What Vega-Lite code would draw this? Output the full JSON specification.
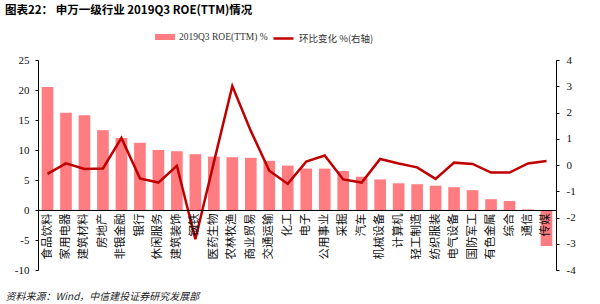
{
  "$schema": "https://vega.github.io/schema/vega-lite/v6.json",
  "width": 518,
  "height": 210,
  "autosize": {"type": "none"},
  "padding": {"left": 38, "top": 60, "right": 44, "bottom": 34},
  "background": "white",
  "config": {
    "view": {"stroke": null},
    "locale": {"number": {"decimal": ".", "thousands": ",", "grouping": [3], "currency": ["$", ""], "minus": "-"}},
    "axis": {"grid": false, "domainColor": "#000000", "tickColor": "#000000", "labelColor": "#111111", "labelFont": "Liberation Serif", "labelFontSize": 11}
  },
  "title": {
    "text": "图表22：  申万一级行业 2019Q3 ROE(TTM)情况",
    "anchor": "start",
    "frame": "group",
    "dx": -33,
    "offset": 11,
    "font": "Noto Sans CJK SC",
    "fontSize": 11.5,
    "fontWeight": "bold",
    "color": "#000000"
  },
  "data": {
    "values": [
      {"name": "食品饮料", "roe": 20.5, "chg": -0.34},
      {"name": "家用电器", "roe": 16.2, "chg": 0.06},
      {"name": "建筑材料", "roe": 15.8, "chg": -0.15},
      {"name": "房地产", "roe": 13.3, "chg": -0.13},
      {"name": "非银金融", "roe": 12.0, "chg": 1.03},
      {"name": "银行", "roe": 11.2, "chg": -0.51},
      {"name": "休闲服务", "roe": 10.0, "chg": -0.67},
      {"name": "建筑装饰", "roe": 9.8, "chg": -0.03},
      {"name": "钢铁", "roe": 9.3, "chg": -2.83},
      {"name": "医药生物", "roe": 8.9, "chg": 0.1},
      {"name": "农林牧渔", "roe": 8.8, "chg": 3.01},
      {"name": "商业贸易", "roe": 8.7, "chg": 1.3},
      {"name": "交通运输", "roe": 8.2, "chg": -0.22},
      {"name": "化工", "roe": 7.4, "chg": -0.72},
      {"name": "电子", "roe": 6.9, "chg": 0.13},
      {"name": "公用事业", "roe": 6.9, "chg": 0.36},
      {"name": "采掘", "roe": 6.5, "chg": -0.55},
      {"name": "汽车", "roe": 5.55, "chg": -0.67},
      {"name": "机械设备", "roe": 5.1, "chg": 0.23},
      {"name": "计算机", "roe": 4.45, "chg": 0.06},
      {"name": "轻工制造", "roe": 4.3, "chg": -0.09},
      {"name": "纺织服装", "roe": 4.05, "chg": -0.53},
      {"name": "电气设备", "roe": 3.8, "chg": 0.09},
      {"name": "国防军工", "roe": 3.3, "chg": 0.04},
      {"name": "有色金属", "roe": 1.8, "chg": -0.29},
      {"name": "综合", "roe": 1.5, "chg": -0.29},
      {"name": "通信", "roe": 0.1, "chg": 0.06},
      {"name": "传媒", "roe": -6.0, "chg": 0.15}
    ]
  },
  "encoding": {
    "x": {
      "field": "name",
      "type": "nominal",
      "sort": null,
      "scale": {"paddingInner": 0.37, "paddingOuter": 0.2},
      "axis": {
        "offset": -60,
        "zindex": 1,
        "labelAngle": -90,
        "labelAlign": "right",
        "labelBaseline": "middle",
        "labelFont": "Noto Sans CJK SC",
        "labelFontSize": 11.5,
        "labelPadding": 3,
        "ticks": false,
        "title": "资料来源：Wind，中信建投证券研究发展部",
        "titleFont": "Noto Sans CJK SC",
        "titleFontSize": 10,
        "titleFontStyle": "italic",
        "titleFontWeight": "normal",
        "titleColor": "#222222",
        "titleAnchor": "start",
        "titleAlign": "left",
        "titleBaseline": "middle",
        "titleX": -33,
        "titleY": 86
      }
    }
  },
  "layer": [
    {
      "mark": {"type": "bar"},
      "encoding": {
        "y": {
          "field": "roe",
          "type": "quantitative",
          "scale": {"domain": [-10, 25], "nice": false, "zero": false},
          "axis": {"values": [-10, -5, 0, 5, 10, 15, 20, 25], "title": null, "tickSize": 3, "labelPadding": 6}
        },
        "fill": {
          "datum": "2019Q3 ROE(TTM) %",
          "type": "nominal",
          "scale": {"range": ["#FF7C80"]},
          "legend": {
            "title": null,
            "orient": "none",
            "legendX": 117,
            "legendY": -33,
            "symbolType": "M-1,-0.3H1V0.3H-1Z",
            "symbolSize": 400,
            "symbolStrokeWidth": 0,
            "labelFont": "Liberation Serif",
            "labelFontSize": 9.5,
            "labelColor": "#333333",
            "padding": 0
          }
        }
      }
    },
    {
      "mark": {"type": "line", "strokeWidth": 2.5, "strokeJoin": "miter"},
      "encoding": {
        "y": {
          "field": "chg",
          "type": "quantitative",
          "scale": {"domain": [-4, 4], "nice": false, "zero": false},
          "axis": {"orient": "right", "values": [-4, -3, -2, -1, 0, 1, 2, 3, 4], "title": null, "tickSize": 3, "labelPadding": 7}
        },
        "stroke": {
          "datum": "环比变化 %(右轴)",
          "type": "nominal",
          "scale": {"range": ["#C00000"]},
          "legend": {
            "title": null,
            "orient": "none",
            "legendX": 234,
            "legendY": -33,
            "symbolType": "stroke",
            "symbolSize": 400,
            "symbolStrokeWidth": 2.5,
            "labelFont": "Noto Sans CJK SC",
            "labelFontSize": 9.5,
            "labelColor": "#333333",
            "padding": 0
          }
        }
      }
    }
  ],
  "resolve": {"scale": {"y": "independent"}}
}
